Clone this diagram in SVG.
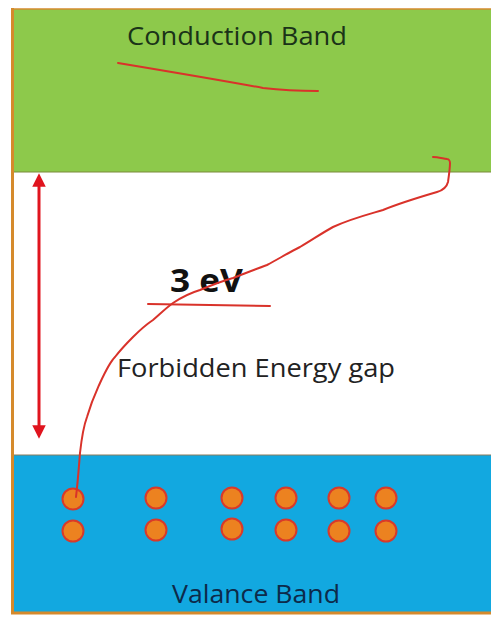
<svg xmlns="http://www.w3.org/2000/svg" width="491" height="617" viewBox="0 0 491 617">
<style>
.lbl{font-family:"Open Sans","Liberation Sans",sans-serif}
.ink{fill:none;stroke:#d9322a;stroke-width:2;stroke-linecap:round;stroke-linejoin:round}
.e{fill:#ec8220;stroke:#d83a2a;stroke-width:2}
</style>
<defs>
<marker id="ah" viewBox="0 0 10 10" refX="5" refY="5" markerWidth="4.5" markerHeight="4.5" orient="auto-start-reverse">
<path d="M0,0 L10,5 L0,10 z" fill="#e0141e"/>
</marker>
</defs>
<rect width="491" height="617" fill="#ffffff"/>
<g id="conduction">
<rect x="12" y="9" width="485" height="163" fill="#8dc94b"/>
<line x1="12" y1="172" x2="491" y2="172" stroke="#7a8a3a" stroke-width="1"/>
<text class="lbl" x="127" y="45" font-size="25" fill="#1a3318" textLength="220" lengthAdjust="spacingAndGlyphs">Conduction Band</text>
</g>
<g id="gap">
<text class="lbl" x="117" y="377" font-size="25" fill="#222" textLength="278" lengthAdjust="spacingAndGlyphs">Forbidden Energy gap</text>
<text class="lbl" x="170" y="292" font-size="32" font-weight="bold" fill="#111" textLength="73" lengthAdjust="spacingAndGlyphs">3 eV</text>
</g>
<g id="valence">
<rect x="12" y="455" width="485" height="157" fill="#12a8e0"/>
<line x1="12" y1="455" x2="491" y2="455" stroke="#8a7a5a" stroke-width="1"/>
<text class="lbl" x="172" y="603" font-size="25" fill="#0d2a4a" textLength="168" lengthAdjust="spacingAndGlyphs">Valance Band</text>
<g id="electrons">
<circle class="e" cx="73" cy="499" r="10.5"/>
<circle class="e" cx="156" cy="498" r="10.5"/>
<circle class="e" cx="232" cy="498" r="10.5"/>
<circle class="e" cx="286" cy="498" r="10.5"/>
<circle class="e" cx="339" cy="498" r="10.5"/>
<circle class="e" cx="386" cy="498" r="10.5"/>
<circle class="e" cx="73" cy="531" r="10.5"/>
<circle class="e" cx="156" cy="530" r="10.5"/>
<circle class="e" cx="232" cy="529" r="10.5"/>
<circle class="e" cx="286" cy="530" r="10.5"/>
<circle class="e" cx="339" cy="531" r="10.5"/>
<circle class="e" cx="386" cy="531" r="10.5"/>
</g>
</g>
<g id="frame" fill="none" stroke="#d58a2c">
<line x1="12.5" y1="8" x2="12.5" y2="614" stroke-width="3"/>
<line x1="11" y1="9" x2="491" y2="9" stroke-width="1.5"/>
<line x1="11" y1="613" x2="491" y2="613" stroke-width="3"/>
</g>
<g id="connectors">
<line x1="39" y1="180" x2="39" y2="432" stroke="#e0141e" stroke-width="3" marker-start="url(#ah)" marker-end="url(#ah)"/>
<path class="ink" d="M118,63 C160,70 220,80 263,88 C280,90 300,91 318,91"/>
<path class="ink" d="M148,304 L270,306"/>
<path class="ink" stroke-width="1.6" d="M76,497 C78,480 79,465 80,453 C82,435 84,425 87,417 C92,400 96,392 100,383 C106,370 110,362 115,357 C122,348 128,342 133,337 C140,330 147,324 153,320 C160,314 166,308 173,303 C182,297 190,293 200,290 C212,285 222,281 233,278 C246,273 256,269 267,265 C280,258 290,252 300,247 C312,240 322,233 333,227 C350,219 366,215 383,210 C400,203 420,197 437,192 C444,190 447,186 448,182 C449,175 450,168 450,163 C450,160 448,159 447,159 C441,158 437,157 433,157"/>
</g>
</svg>
